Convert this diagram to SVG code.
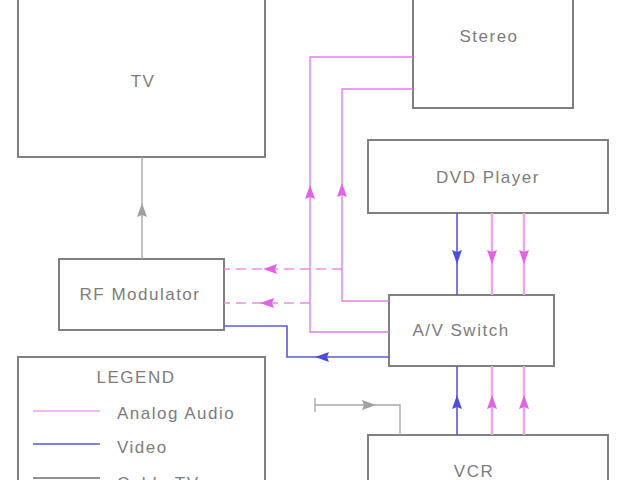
<svg xmlns="http://www.w3.org/2000/svg" width="640" height="480" viewBox="0 0 640 480">
<style>
.box{fill:#fff;stroke:#808080;stroke-width:2}
.lbl{font-family:"Liberation Sans",Arial,sans-serif;font-size:17px;fill:#7c7c7c;letter-spacing:1.5px;text-anchor:middle}
.lg{font-family:"Liberation Sans",Arial,sans-serif;font-size:17px;fill:#7c7c7c;letter-spacing:1.5px}
.aud{fill:none;stroke:#e27ee6;stroke-width:1.4}
.aud2{fill:none;stroke:#eaa6ec;stroke-width:2.4}
.dash{fill:none;stroke:#e88ee8;stroke-width:1.4;stroke-dasharray:10 6}
.vid{fill:none;stroke:#5a5ad6;stroke-width:1.6}
.cab{fill:none;stroke:#a8a8a8;stroke-width:1.4}
.ha{fill:#e460e6}
.hv{fill:#4c4ce0}
.hc{fill:#a0a0a0}
</style>
<defs>
<path id="ah" d="M0,-8 L5,6 L0,4 L-5,6 Z"/>
</defs>
<rect width="640" height="480" fill="#fff"/>
<g id="tv"><rect class="box" x="18" y="-10" width="247" height="167"/><text class="lbl" x="143" y="87">TV</text></g>
<g id="stereo"><rect class="box" x="413" y="-10" width="160" height="118"/><text class="lbl" x="489" y="42">Stereo</text></g>
<g id="dvd"><rect class="box" x="368" y="140" width="240" height="73"/><text class="lbl" x="488" y="183">DVD Player</text></g>
<g id="rfmod"><rect class="box" x="59" y="259" width="165" height="71"/><text class="lbl" x="140" y="300">RF Modulator</text></g>
<g id="avswitch"><rect class="box" x="389" y="295" width="165" height="71"/><text class="lbl" x="461" y="336">A/V Switch</text></g>
<g id="vcr"><rect class="box" x="368" y="435" width="240" height="60"/><text class="lbl" x="474" y="477">VCR</text></g>
<g id="legend">
<rect class="box" x="18" y="357" width="247" height="140"/>
<text class="lbl" x="136" y="383">LEGEND</text>
<line x1="33" y1="411" x2="100" y2="411" stroke="#e8a0ec" stroke-width="1.4"/>
<text class="lg" x="117" y="419">Analog Audio</text>
<line x1="33" y1="444" x2="100" y2="444" stroke="#8080e6" stroke-width="1.8"/>
<text class="lg" x="117" y="453">Video</text>
<line x1="33" y1="478" x2="100" y2="478" stroke="#909090" stroke-width="1.8"/>
<text class="lg" x="117" y="489">Cable TV</text>
</g>
<g id="connectors">
<path class="cab" d="M142,259 V157"/>
<use href="#ah" class="hc" transform="translate(142,211)"/>
<path class="aud" d="M413,57 H310 V332 H389"/>
<use href="#ah" class="ha" transform="translate(310,193)"/>
<path class="aud" d="M413,89 H342 V301 H389"/>
<use href="#ah" class="ha" transform="translate(342,191)"/>
<path class="dash" d="M342,269 H224"/>
<use href="#ah" class="ha" transform="translate(271,269) rotate(-90)"/>
<path class="dash" d="M310,303 H224"/>
<use href="#ah" class="ha" transform="translate(268,303) rotate(-90)"/>
<path class="vid" d="M389,357 H287 V326 H224"/>
<use href="#ah" class="hv" transform="translate(323,357) rotate(-90)"/>
<path class="vid" d="M457,213 V295"/>
<path class="aud2" d="M492,213 V295"/>
<path class="aud2" d="M524,213 V295"/>
<use href="#ah" class="hv" transform="translate(457,256) rotate(180)"/>
<use href="#ah" class="ha" transform="translate(492,256) rotate(180)"/>
<use href="#ah" class="ha" transform="translate(524,256) rotate(180)"/>
<path class="vid" d="M457,435 V366"/>
<path class="aud2" d="M492,435 V366"/>
<path class="aud2" d="M524,435 V366"/>
<use href="#ah" class="hv" transform="translate(457,403)"/>
<use href="#ah" class="ha" transform="translate(492,403)"/>
<use href="#ah" class="ha" transform="translate(524,403)"/>
<path class="cab" d="M315,405 H400 V435"/>
<path class="cab" d="M315,398 V412"/>
<use href="#ah" class="hc" transform="translate(368,405) rotate(90)"/>
</g>
</svg>
